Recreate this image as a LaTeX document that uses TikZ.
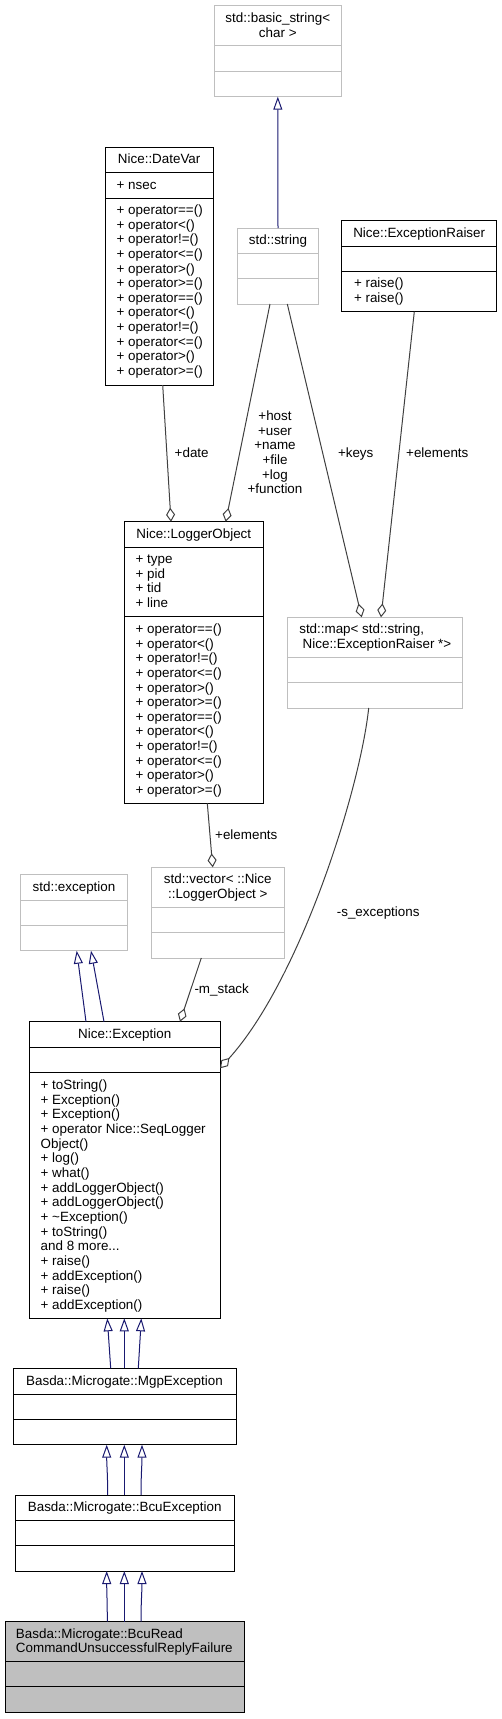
\documentclass[tikz,border=0pt]{standalone}
\usepackage{fontspec}
\setmainfont{Liberation Sans}
\usetikzlibrary{arrows.meta}
\definecolor{edgegray}{HTML}{404040}
\definecolor{inhblue}{HTML}{191970}
\definecolor{boxgray}{HTML}{BFBFBF}
\tikzset{
  txt/.style={inner sep=0pt, outer sep=0pt, font=\fontsize{13.4}{14.6}\selectfont},
  lt/.style={txt, anchor=base west},
  ct/.style={txt, anchor=base},
  docbox/.style={draw=black, line width=1pt},
  extbox/.style={draw=boxgray, line width=1pt},
  curbox/.style={draw=black, fill=boxgray, line width=1pt},
  aggr/.style={draw=edgegray, line width=1pt, -{Diamond[open, length=14pt, width=9pt, line width=1pt]}},
  inh/.style={draw=inhblue, line width=1pt, -{Triangle[open, length=13pt, width=9pt, line width=1pt]}},
}
% name, x1, y1, x2, y2, sep1, sep2, style
\newcommand\classbox[8]{%
  \node[#8, anchor=north west, inner sep=0pt, outer sep=0pt,
        minimum width={(#4-#2)*1pt}, minimum height={(#5-#3)*1pt}] (#1) at (#2,#3) {};
  \draw[#8, fill=none] (#2,#6) -- (#4,#6) (#2,#7) -- (#4,#7);
}
\begin{document}
\begin{tikzpicture}[x=1pt,y=-1pt]
\useasboundingbox (0,0) rectangle (502,1719);

% ---- boxes ----
\classbox{bs}{214.3}{5.7}{341.3}{96.7}{45.7}{71}{extbox}
\classbox{dv}{105}{147}{213.3}{385}{172.7}{198}{docbox}
\classbox{ss}{237.7}{228}{318.3}{304}{253.3}{278.3}{extbox}
\classbox{er}{341.7}{220.7}{496.7}{311.7}{246}{271.3}{docbox}
\classbox{lo}{124.3}{521.7}{263.3}{803.3}{547.3}{616.7}{docbox}
\classbox{map}{287.7}{617.3}{462.7}{708}{657.3}{682.7}{extbox}
\classbox{se}{20.7}{874.7}{127.3}{950.7}{900}{925.7}{extbox}
\classbox{vec}{151.7}{867.3}{284}{958}{907.3}{932.7}{extbox}
\classbox{ex}{29.3}{1021.7}{220}{1318.3}{1047.3}{1072.7}{docbox}
\classbox{mgp}{13}{1368.3}{236}{1444.7}{1394}{1419.3}{docbox}
\classbox{bcu}{15.3}{1495}{234}{1571}{1520.7}{1545.7}{docbox}
\classbox{brf}{5}{1621.7}{244}{1712.3}{1661.7}{1686.7}{curbox}

% ---- texts ----
\node[ct] (bs1) at (277.8,22.6) {std::basic\_string<};
\node[ct] (bs2) at (277.8,37.6) {char >};

\node[ct] (dvt) at (159.2,163.3) {Nice::DateVar};
\node[lt] (dva) at (116.7,189.3) {+ nsec};
\foreach \op [count=\i from 0] in {==,<,!=,<=,>,>=,==,<,!=,<=,>,>=}
  \node[lt] (dvo\i) at (116.7,214.6+\i*14.6) {+ operator\op()};

\node[ct] (sst) at (278,244.6) {std::string};

\node[ct] (ert) at (419.2,237.3) {Nice::ExceptionRaiser};
\node[lt] (er1) at (354,287.6) {+ raise()};
\node[lt] (er2) at (354,302.2) {+ raise()};

\node[ct] (lot) at (193.8,538.6) {Nice::LoggerObject};
\foreach \a [count=\i from 0] in {type,pid,tid,line}
  \node[lt] (loa\i) at (135.7,563.6+\i*14.6) {+ \a};
\foreach \op [count=\i from 0] in {==,<,!=,<=,>,>=,==,<,!=,<=,>,>=}
  \node[lt] (loo\i) at (135.7,633.6+\i*14.6) {+ operator\op()};

\node[lt] (map1) at (299.3,633.6) {std::map< std::string,};
\node[lt] (map2) at (302.7,648.6) {Nice::ExceptionRaiser *>};

\node[ct] (set) at (74,891.3) {std::exception};

\node[ct] (vec1) at (217.8,883.3) {std::vector< ::Nice};
\node[ct] (vec2) at (217.8,898.3) {::LoggerObject >};

\node[ct] (ext) at (124.7,1038.3) {Nice::Exception};
\foreach \m [count=\i from 0] in {+ toString(),+ Exception(),+ Exception(),+ operator Nice::SeqLogger,Object(),+ log(),+ what(),+ addLoggerObject(),+ addLoggerObject(),+ \textasciitilde Exception(),+ toString()}
  \node[lt] (exm\i) at (40.7,1089.6+\i*14.65) {\m};
\node[lt] (exmore) at (40.7,1089.6+11*14.65) {and 8 more...};
\foreach \m [count=\i from 12] in {+ raise(),+ addException(),+ raise(),+ addException()}
  \node[lt] (exm\i) at (40.7,1089.6+\i*14.65) {\m};

\node[ct] (mgpt) at (124.5,1385.3) {Basda::Microgate::MgpException};
\node[ct] (bcut) at (124.7,1511.3) {Basda::Microgate::BcuException};
\node[lt] (brf1) at (16,1638.6) {Basda::Microgate::BcuRead};
\node[lt] (brf2) at (16,1652.9) {CommandUnsuccessfulReplyFailure};

% ---- inheritance ----
\draw[inh] (ss.north) -- (bs.south);
\draw[inh] ([xshift=56.7pt]ex.north west) -- ([xshift=56pt]se.south west);
\draw[inh] ([xshift=74.7pt]ex.north west) -- ([xshift=70.3pt]se.south west);

\draw[inh] ([xshift=97.7pt]mgp.north west) -- ([xshift=78pt]ex.south west);
\draw[inh] ([xshift=111.3pt]mgp.north west) -- ([xshift=95pt]ex.south west);
\draw[inh] ([xshift=125.3pt]mgp.north west) -- ([xshift=112pt]ex.south west);

\draw[inh] ([xshift=92.4pt]bcu.north west) .. controls +(0,-20) and +(0,20) .. ([xshift=93.7pt]mgp.south west);
\draw[inh] ([xshift=109pt]bcu.north west) -- ([xshift=111.3pt]mgp.south west);
\draw[inh] ([xshift=125.7pt]bcu.north west) .. controls +(0,-20) and +(0,20) .. ([xshift=129pt]mgp.south west);

\draw[inh] ([xshift=102.3pt]brf.north west) .. controls +(0,-20) and +(0,20) .. ([xshift=91.4pt]bcu.south west);
\draw[inh] ([xshift=119.3pt]brf.north west) -- ([xshift=109pt]bcu.south west);
\draw[inh] ([xshift=136pt]brf.north west) .. controls +(0,-20) and +(0,20) .. ([xshift=126.7pt]bcu.south west);

% ---- aggregation ----
\draw[aggr] ([xshift=57.7pt]dv.south west) -- ([xshift=46.7pt]lo.north west);
\draw[aggr] ([xshift=32.3pt]ss.south west) -- ([xshift=101.4pt]lo.north west);
\draw[aggr] ([xshift=49.6pt]ss.south west) -- ([xshift=74pt]map.north west);
\draw[aggr] ([xshift=72.6pt]er.south west) -- ([xshift=93.3pt]map.north west);
\draw[aggr] ([xshift=83pt]lo.south west) -- ([xshift=61pt]vec.north west);
\draw[aggr] ([xshift=49.6pt]vec.south west) -- ([xshift=150.7pt]ex.north west);
\draw[aggr] ([xshift=81pt]map.south west) .. controls (360,790) and (300,980) .. ([yshift=-46.6pt]ex.north east);

% ---- edge labels ----
\node[ct] (ldate) at (191.7,457.3) {+date};
\foreach \l [count=\i from 0] in {+host,+user,+name,+file,+log,+function}
  \node[ct] (lss\i) at (275,420.6+\i*14.6) {\l};
\node[ct] (lkeys) at (355.7,457.3) {+keys};
\node[ct] (lel1) at (437.3,457.3) {+elements};
\node[ct] (lel2) at (246.3,839.6) {+elements};
\node[ct] (lsex) at (378.2,916.3) {-s\_exceptions};
\node[ct] (lms) at (221.7,993.3) {-m\_stack};
\end{tikzpicture}
\end{document}
